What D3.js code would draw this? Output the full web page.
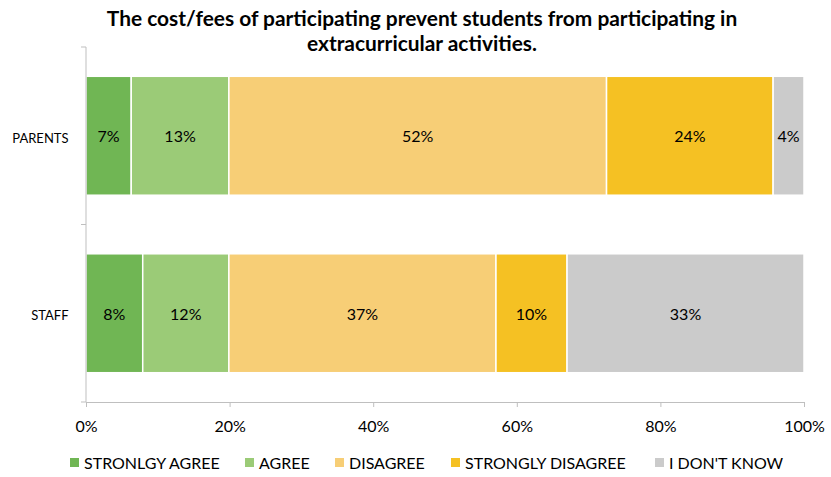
<!DOCTYPE html>
<html><head><meta charset="utf-8">
<script src="https://cdn.jsdelivr.net/npm/d3@7"></script>
<style>body{margin:0;background:#fff}</style>
</head><body>
<svg id="chart" width="831" height="477"></svg>
<script>
const categories = ["PARENTS", "STAFF"];
const seriesNames = ["STRONLGY AGREE", "AGREE", "DISAGREE", "STRONGLY DISAGREE", "I DON'T KNOW"];
const colors = ["#70b654", "#9bcb77", "#f7ce76", "#f5c123", "#cbcbcb"];
const parentsValues = [6.3, 13.6, 52.6, 23.2, 4.3];
const staffValues = [7.9, 12.0, 37.2, 9.9, 33.0];
const parentsLabels = ["7%", "13%", "52%", "24%", "4%"];
const staffLabels = ["8%", "12%", "37%", "10%", "33%"];
const xTicks = [0, 20, 40, 60, 80, 100];
const titleLines = ["The cost/fees of participating prevent students from participating in", "extracurricular activities."];

(function () {
const values = [parentsValues, staffValues];
const labels = [parentsLabels, staffLabels];
const font = "Lato, 'Open Sans', sans-serif";

const svg = d3.select("#chart");
const mLeft = 86, mRight = 804, mTop = 47, mBottom = 402;
const x = d3.scaleLinear().domain([0, 100]).range([mLeft, mRight]);
const y = d3.scaleBand().domain(categories).range([mTop, mBottom]).paddingInner(0.33).paddingOuter(0.165);

svg.append("text").attr("font-family", font).attr("font-weight", "bold")
  .attr("font-size", 20.9).attr("text-anchor", "middle").attr("fill", "#000")
  .selectAll("tspan").data(titleLines).join("tspan")
  .attr("x", 422).attr("y", (d, i) => 26 + i * 24.7).text(d => d);

categories.forEach((cat, ci) => {
  let acc = 0;
  const segs = values[ci].map((v, si) => { const s = {x0: acc, x1: acc + v, si, label: labels[ci][si]}; acc += v; return s; });
  const g = svg.append("g");
  g.selectAll("rect").data(segs).join("rect")
    .attr("x", d => x(d.x0)).attr("width", d => x(d.x1) - x(d.x0))
    .attr("y", y(cat)).attr("height", y.bandwidth())
    .attr("fill", d => colors[d.si]).attr("stroke", "#fff").attr("stroke-width", 1.5);
  g.selectAll("text").data(segs).join("text")
    .attr("x", d => (x(d.x0) + x(d.x1)) / 2).attr("y", y(cat) + y.bandwidth() / 2 + 6.5)
    .attr("text-anchor", "middle").attr("font-family", font).attr("font-size", 16).attr("fill", "#000")
    .text(d => d.label);
});

const yAxisG = svg.append("g");
yAxisG.append("line").attr("x1", mLeft).attr("x2", mLeft).attr("y1", mTop).attr("y2", mBottom).attr("stroke", "#bfbfbf");
const yBounds = [mTop, (mTop + mBottom) / 2, mBottom];
yAxisG.selectAll("line.t").data(yBounds).join("line").attr("class", "t")
  .attr("x1", mLeft - 5).attr("x2", mLeft).attr("y1", d => d).attr("y2", d => d).attr("stroke", "#bfbfbf");
yAxisG.selectAll("text").data(categories).join("text")
  .attr("x", 68.5).attr("y", d => y(d) + y.bandwidth() / 2 + 7)
  .attr("text-anchor", "end").attr("font-family", font).attr("font-size", 13).attr("fill", "#000").text(d => d);

const xAxis = d3.axisBottom(x).tickValues(xTicks).tickFormat(d => d + "%").tickSize(5).tickSizeOuter(0);
const xg = svg.append("g").attr("transform", `translate(0,${mBottom})`).call(xAxis);
xg.select(".domain").attr("stroke", "#bfbfbf");
xg.selectAll(".tick line").attr("stroke", "#bfbfbf");
xg.selectAll(".tick text").attr("font-family", font).attr("font-size", 16).attr("fill", "#000").attr("dy", "1.4em");

const legendX = [70, 245, 335, 451, 655];
const lg = svg.append("g");
const items = lg.selectAll("g").data(seriesNames).join("g").attr("transform", (d, i) => `translate(${legendX[i]},0)`);
items.append("rect").attr("x", 0).attr("y", 458).attr("width", 9).attr("height", 9).attr("fill", (d, i) => colors[i]);
items.append("text").attr("x", 14).attr("y", 469).attr("font-family", font).attr("font-size", 16).attr("fill", "#000").text(d => d);
})();
</script>
</body></html>
